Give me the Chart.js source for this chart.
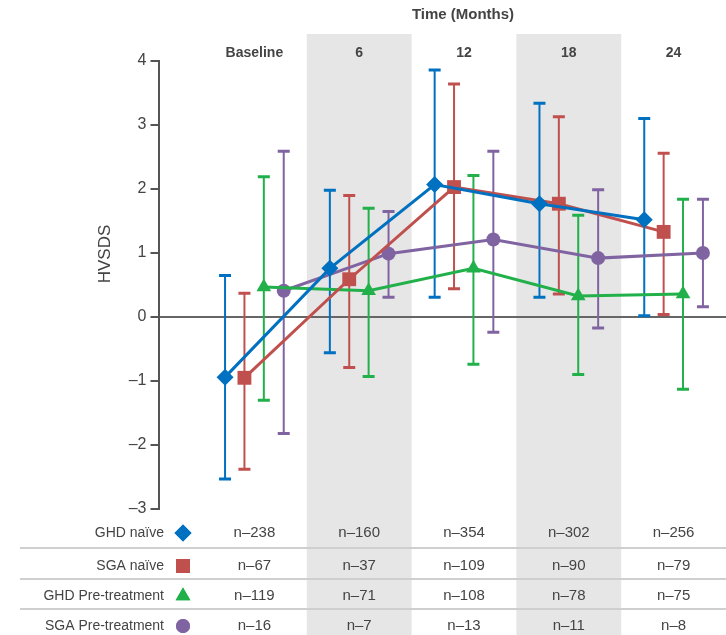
<!DOCTYPE html>
<html>
<head>
<meta charset="utf-8">
<script src="https://cdn.jsdelivr.net/npm/chart.js@4"></script>
<style>
  html, body { margin: 0; padding: 0; background: #fff; }
  #wrap { width: 726px; height: 635px; position: relative; }
</style>
</head>
<body>
<div id="wrap"><canvas id="hvChart" width="726" height="635"></canvas></div>
<script>
// time points
var timepoints = ['Baseline', '6', '12', '18', '24'];
var seriesNames = ['GHD naïve', 'SGA naïve', 'GHD Pre-treatment', 'SGA Pre-treatment'];

// HVSDS means and error bar ends per group
var ghdNaive = [-0.94, 0.76, 2.07, 1.77, 1.52];
var ghdNaiveLow = [-2.53, -0.56, 0.31, 0.31, 0.02];
var ghdNaiveHigh = [0.65, 1.98, 3.86, 3.34, 3.10];

var sgaNaive = [-0.95, 0.59, 2.03, 1.77, 1.33];
var sgaNaiveLow = [-2.38, -0.79, 0.44, 0.36, 0.04];
var sgaNaiveHigh = [0.37, 1.90, 3.64, 3.13, 2.56];

var ghdPre = [0.47, 0.41, 0.76, 0.33, 0.36];
var ghdPreLow = [-1.30, -0.93, -0.74, -0.90, -1.13];
var ghdPreHigh = [2.19, 1.70, 2.21, 1.59, 1.84];

var sgaPre = [0.41, 0.99, 1.21, 0.92, 1.00];
var sgaPreLow = [-1.82, 0.31, -0.24, -0.17, 0.16];
var sgaPreHigh = [2.59, 1.65, 2.59, 1.99, 1.84];

// patient counts
var nGhdNaive = [238, 160, 354, 302, 256];
var nSgaNaive = [67, 37, 109, 90, 79];
var nGhdPre = [119, 71, 108, 78, 75];
var nSgaPre = [16, 7, 13, 11, 8];

var yTicks = [4, 3, 2, 1, 0, -1, -2, -3];

var colors = ['#0070c0', '#c0504d', '#22b04a', '#8064a2'];
var styles = ['rectRot', 'rect', 'triangle', 'circle'];
var radii = [8.5, 9.8, 8.5, 7];
var offsets = [-0.28, -0.095, 0.09, 0.28];

var means = [ghdNaive, sgaNaive, ghdPre, sgaPre];
var lows = [ghdNaiveLow, sgaNaiveLow, ghdPreLow, sgaPreLow];
var highs = [ghdNaiveHigh, sgaNaiveHigh, ghdPreHigh, sgaPreHigh];
var counts = [nGhdNaive, nSgaNaive, nGhdPre, nSgaPre];

var FONT = '"Liberation Sans", Arial, sans-serif';
var TEXT = '#444';

var datasets = means.map(function (vals, s) {
  return {
    label: seriesNames[s],
    data: vals.map(function (v, i) { return { x: i + offsets[s], y: v }; }),
    borderColor: colors[s],
    backgroundColor: colors[s],
    borderWidth: 3,
    pointStyle: styles[s],
    pointRadius: radii[s],
    pointBorderWidth: 0,
    showLine: true,
    tension: 0,
    clip: false
  };
});

// gray bands behind every other time column
var bandsPlugin = {
  id: 'bands',
  beforeDraw: function (chart) {
    var ctx = chart.ctx, x = chart.scales.x;
    ctx.save();
    ctx.fillStyle = '#e6e6e6';
    [1, 3].forEach(function (i) {
      var l = x.getPixelForValue(i - 0.5), r = x.getPixelForValue(i + 0.5);
      ctx.fillRect(l, 34, r - l, chart.height - 34);
    });
    ctx.restore();
  }
};

// whiskers with flat caps
var errorBarsPlugin = {
  id: 'errorBars',
  beforeDatasetsDraw: function (chart) {
    var ctx = chart.ctx, x = chart.scales.x, y = chart.scales.y;
    ctx.save();
    means.forEach(function (vals, s) {
      ctx.strokeStyle = colors[s];
      vals.forEach(function (v, i) {
        var px = x.getPixelForValue(i + offsets[s]);
        var lo = y.getPixelForValue(lows[s][i]);
        var hi = y.getPixelForValue(highs[s][i]);
        ctx.lineWidth = 2;
        ctx.beginPath();
        ctx.moveTo(px, lo); ctx.lineTo(px, hi);
        ctx.stroke();
        ctx.lineWidth = 3;
        ctx.beginPath();
        ctx.moveTo(px - 6, lo); ctx.lineTo(px + 6, lo);
        ctx.moveTo(px - 6, hi); ctx.lineTo(px + 6, hi);
        ctx.stroke();
      });
    });
    ctx.restore();
  }
};

// headings, y title and the n table
var tablePlugin = {
  id: 'table',
  afterDraw: function (chart) {
    var ctx = chart.ctx, x = chart.scales.x;
    ctx.save();
    ctx.fillStyle = TEXT;
    ctx.textBaseline = 'middle';
    ctx.textAlign = 'center';

    ctx.font = 'bold 15px ' + FONT;
    ctx.fillText('Time (Months)', 463, 15);

    ctx.font = 'bold 14px ' + FONT;
    timepoints.forEach(function (t, i) {
      ctx.fillText(t, x.getPixelForValue(i), 53);
    });

    ctx.save();
    ctx.translate(105, 254);
    ctx.rotate(-Math.PI / 2);
    ctx.font = '17px ' + FONT;
    ctx.fillText('HVSDS', 0, 0);
    ctx.restore();

    var rowY = [533, 566, 596, 626];
    var sepY = [548, 579, 609];
    ctx.strokeStyle = '#cfcfcf';
    ctx.lineWidth = 2;
    sepY.forEach(function (yy) {
      ctx.beginPath();
      ctx.moveTo(20, yy); ctx.lineTo(chart.width, yy);
      ctx.stroke();
    });

    seriesNames.forEach(function (name, s) {
      var yy = rowY[s];
      ctx.fillStyle = TEXT;
      ctx.font = '14px ' + FONT;
      ctx.textAlign = 'right';
      ctx.fillText(name, 164, yy);
      ctx.fillStyle = colors[s];
      Chart.helpers.drawPoint(ctx, {
        pointStyle: styles[s], radius: radii[s], rotation: 0, borderWidth: 0
      }, 183, yy);
      ctx.fill();
      ctx.fillStyle = TEXT;
      ctx.font = '15px ' + FONT;
      ctx.textAlign = 'center';
      counts[s].forEach(function (n, i) {
        ctx.fillText('n–' + n, x.getPixelForValue(i), yy);
      });
    });
    ctx.restore();
  }
};

new Chart(document.getElementById('hvChart').getContext('2d'), {
  type: 'scatter',
  data: { datasets: datasets },
  options: {
    responsive: false,
    animation: false,
    layout: { autoPadding: false, padding: { top: 61, bottom: 126, left: 0, right: 0 } },
    plugins: { legend: { display: false }, tooltip: { enabled: false } },
    scales: {
      x: {
        type: 'linear',
        min: -0.915,
        max: 4.5,
        display: false
      },
      y: {
        min: -3,
        max: 4,
        afterFit: function (scale) { scale.width = 158.5; },
        afterBuildTicks: function (scale) {
          scale.ticks = yTicks.map(function (v) { return { value: v }; });
        },
        border: { display: true, color: '#555', width: 2 },
        grid: {
          drawOnChartArea: true,
          color: function (c) { return c.tick && c.tick.value === 0 ? '#666' : 'rgba(0,0,0,0)'; },
          lineWidth: 2,
          tickColor: '#555',
          tickLength: 8
        },
        ticks: {
          color: TEXT,
          padding: 4,
          font: { family: FONT, size: 16 },
          callback: function (v) { return v < 0 ? '–' + Math.abs(v) : String(v); }
        }
      }
    }
  },
  plugins: [bandsPlugin, errorBarsPlugin, tablePlugin]
});
</script>
</body>
</html>
